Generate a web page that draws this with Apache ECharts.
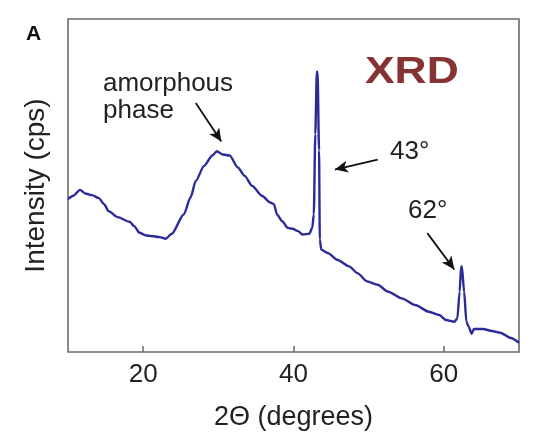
<!DOCTYPE html>
<html>
<head>
<meta charset="utf-8">
<script src="https://cdn.jsdelivr.net/npm/echarts@6/dist/echarts.min.js"></script>
<style>
html,body{margin:0;padding:0;background:#fff;}
#c{width:534px;height:438px;}
</style>
</head>
<body>
<div id="c"></div>
<script>
// 2-theta (degrees)
const twoTheta = [10,10.7,11.6,12.3,13.2,14.1,14.8,15.4,16.6,18.2,18.8,19.5,20.4,22.2,23.0,23.8,25.4,26.3,27.0,28.1,29.2,29.8,30.6,31.5,32.6,33.5,34.5,35.8,36.9,37.4,37.8,38.5,39.2,39.9,40.6,41.2,42.1,42.5,42.7,42.9,43.1,43.2,43.4,43.5,43.7,44.6,45.8,47.4,48.5,49.8,51.2,52.6,54.4,56.2,58.0,59.4,60.3,61.4,61.8,62.1,62.3,62.4,62.7,63.0,63.3,63.7,64.0,65.2,66.4,67.5,68.9,70];
// intensity (arbitrary units, cps scale not labelled)
const intensity = [45.9,46.9,48.7,47.6,47.1,46.2,44.4,42.3,40.5,39.1,37.8,35.8,35.0,34.5,34.0,35.5,41.3,46.4,51.4,55.9,59.0,60.3,59.3,59.0,55.4,52.9,49.9,46.9,44.9,44.4,41.3,39.3,37.3,37.0,36.3,35.3,35.5,37.3,41.3,65.5,84.2,84.2,60.5,33.8,30.7,29.7,27.7,25.7,23.7,21.2,20.2,18.1,16.1,14.1,12.1,11.1,9.6,9.1,10.1,18.1,25.7,25.7,18.1,9.1,7.6,5.5,6.9,6.9,6.3,5.8,4.2,2.8];
const xTicks = [20,40,60];
const xTitle = '2\u0398 (degrees)';
const yTitle = 'Intensity (cps)';
const arrows = [
  [[27.0,74.8],[30.4,63.2]],
  [[51.2,57.8],[45.5,54.8]],
  [[57.8,35.7],[61.4,24.8]]
];

const FONT = '"Liberation Sans", Arial, Helvetica, sans-serif';
const chart = echarts.init(document.getElementById('c'), null, {renderer:'canvas'});
const data = twoTheta.map((x,i)=>[x,intensity[i]]);

chart.setOption({
  animation:false,
  backgroundColor:'#fff',
  grid:{left:68,right:15,top:19,bottom:86,show:true,borderColor:'#6a6a6a',borderWidth:1.6,backgroundColor:'transparent'},
  xAxis:{
    type:'value',min:10,max:70,interval:10,
    axisLine:{show:false},
    splitLine:{show:false},
    axisTick:{show:true,inside:true,length:6,customValues:xTicks,lineStyle:{color:'#6a6a6a',width:1.5}},
    axisLabel:{customValues:xTicks,fontFamily:FONT,fontSize:26,color:'#222',margin:10},
    name:xTitle,nameLocation:'middle',nameGap:52,
    nameTextStyle:{fontFamily:FONT,fontSize:27,color:'#222'}
  },
  yAxis:{
    type:'value',min:0,max:100,
    axisLine:{show:false},axisTick:{show:false},axisLabel:{show:false},splitLine:{show:false},
    name:yTitle,nameLocation:'middle',nameGap:18,nameRotate:90,
    nameTextStyle:{fontFamily:FONT,fontSize:28,color:'#222'}
  },
  series:[{
    type:'line',data:data,showSymbol:false,
    smooth:0.25,smoothMonotone:'x',
    lineStyle:{color:'#2b2b9a',width:2.4},
    markLine:{
      silent:true,animation:false,
      symbol:['none','arrow'],symbolSize:[9,13],
      label:{show:false},
      lineStyle:{color:'#111',width:1.8,type:'solid'},
      data:arrows.map(a=>[{coord:a[0]},{coord:a[1]}])
    }
  }],
  graphic:[
    {type:'text',left:26,top:24,style:{text:'A',fontFamily:FONT,fontSize:21,fontWeight:'bold',fill:'#111'}},
    {type:'text',x:365,y:54,scaleX:1.2,style:{text:'XRD',fontFamily:FONT,fontSize:37,fontWeight:'bold',fill:'#863333'}},
    {type:'text',x:103,y:70,style:{text:'amorphous\nphase',fontFamily:FONT,fontSize:26,lineHeight:27,fill:'#222'}},
    {type:'text',x:390,y:139,style:{text:'43\u00B0',fontFamily:FONT,fontSize:26,fill:'#222'}},
    {type:'text',x:408,y:198,style:{text:'62\u00B0',fontFamily:FONT,fontSize:26,fill:'#222'}}
  ]
});
</script>
</body>
</html>
